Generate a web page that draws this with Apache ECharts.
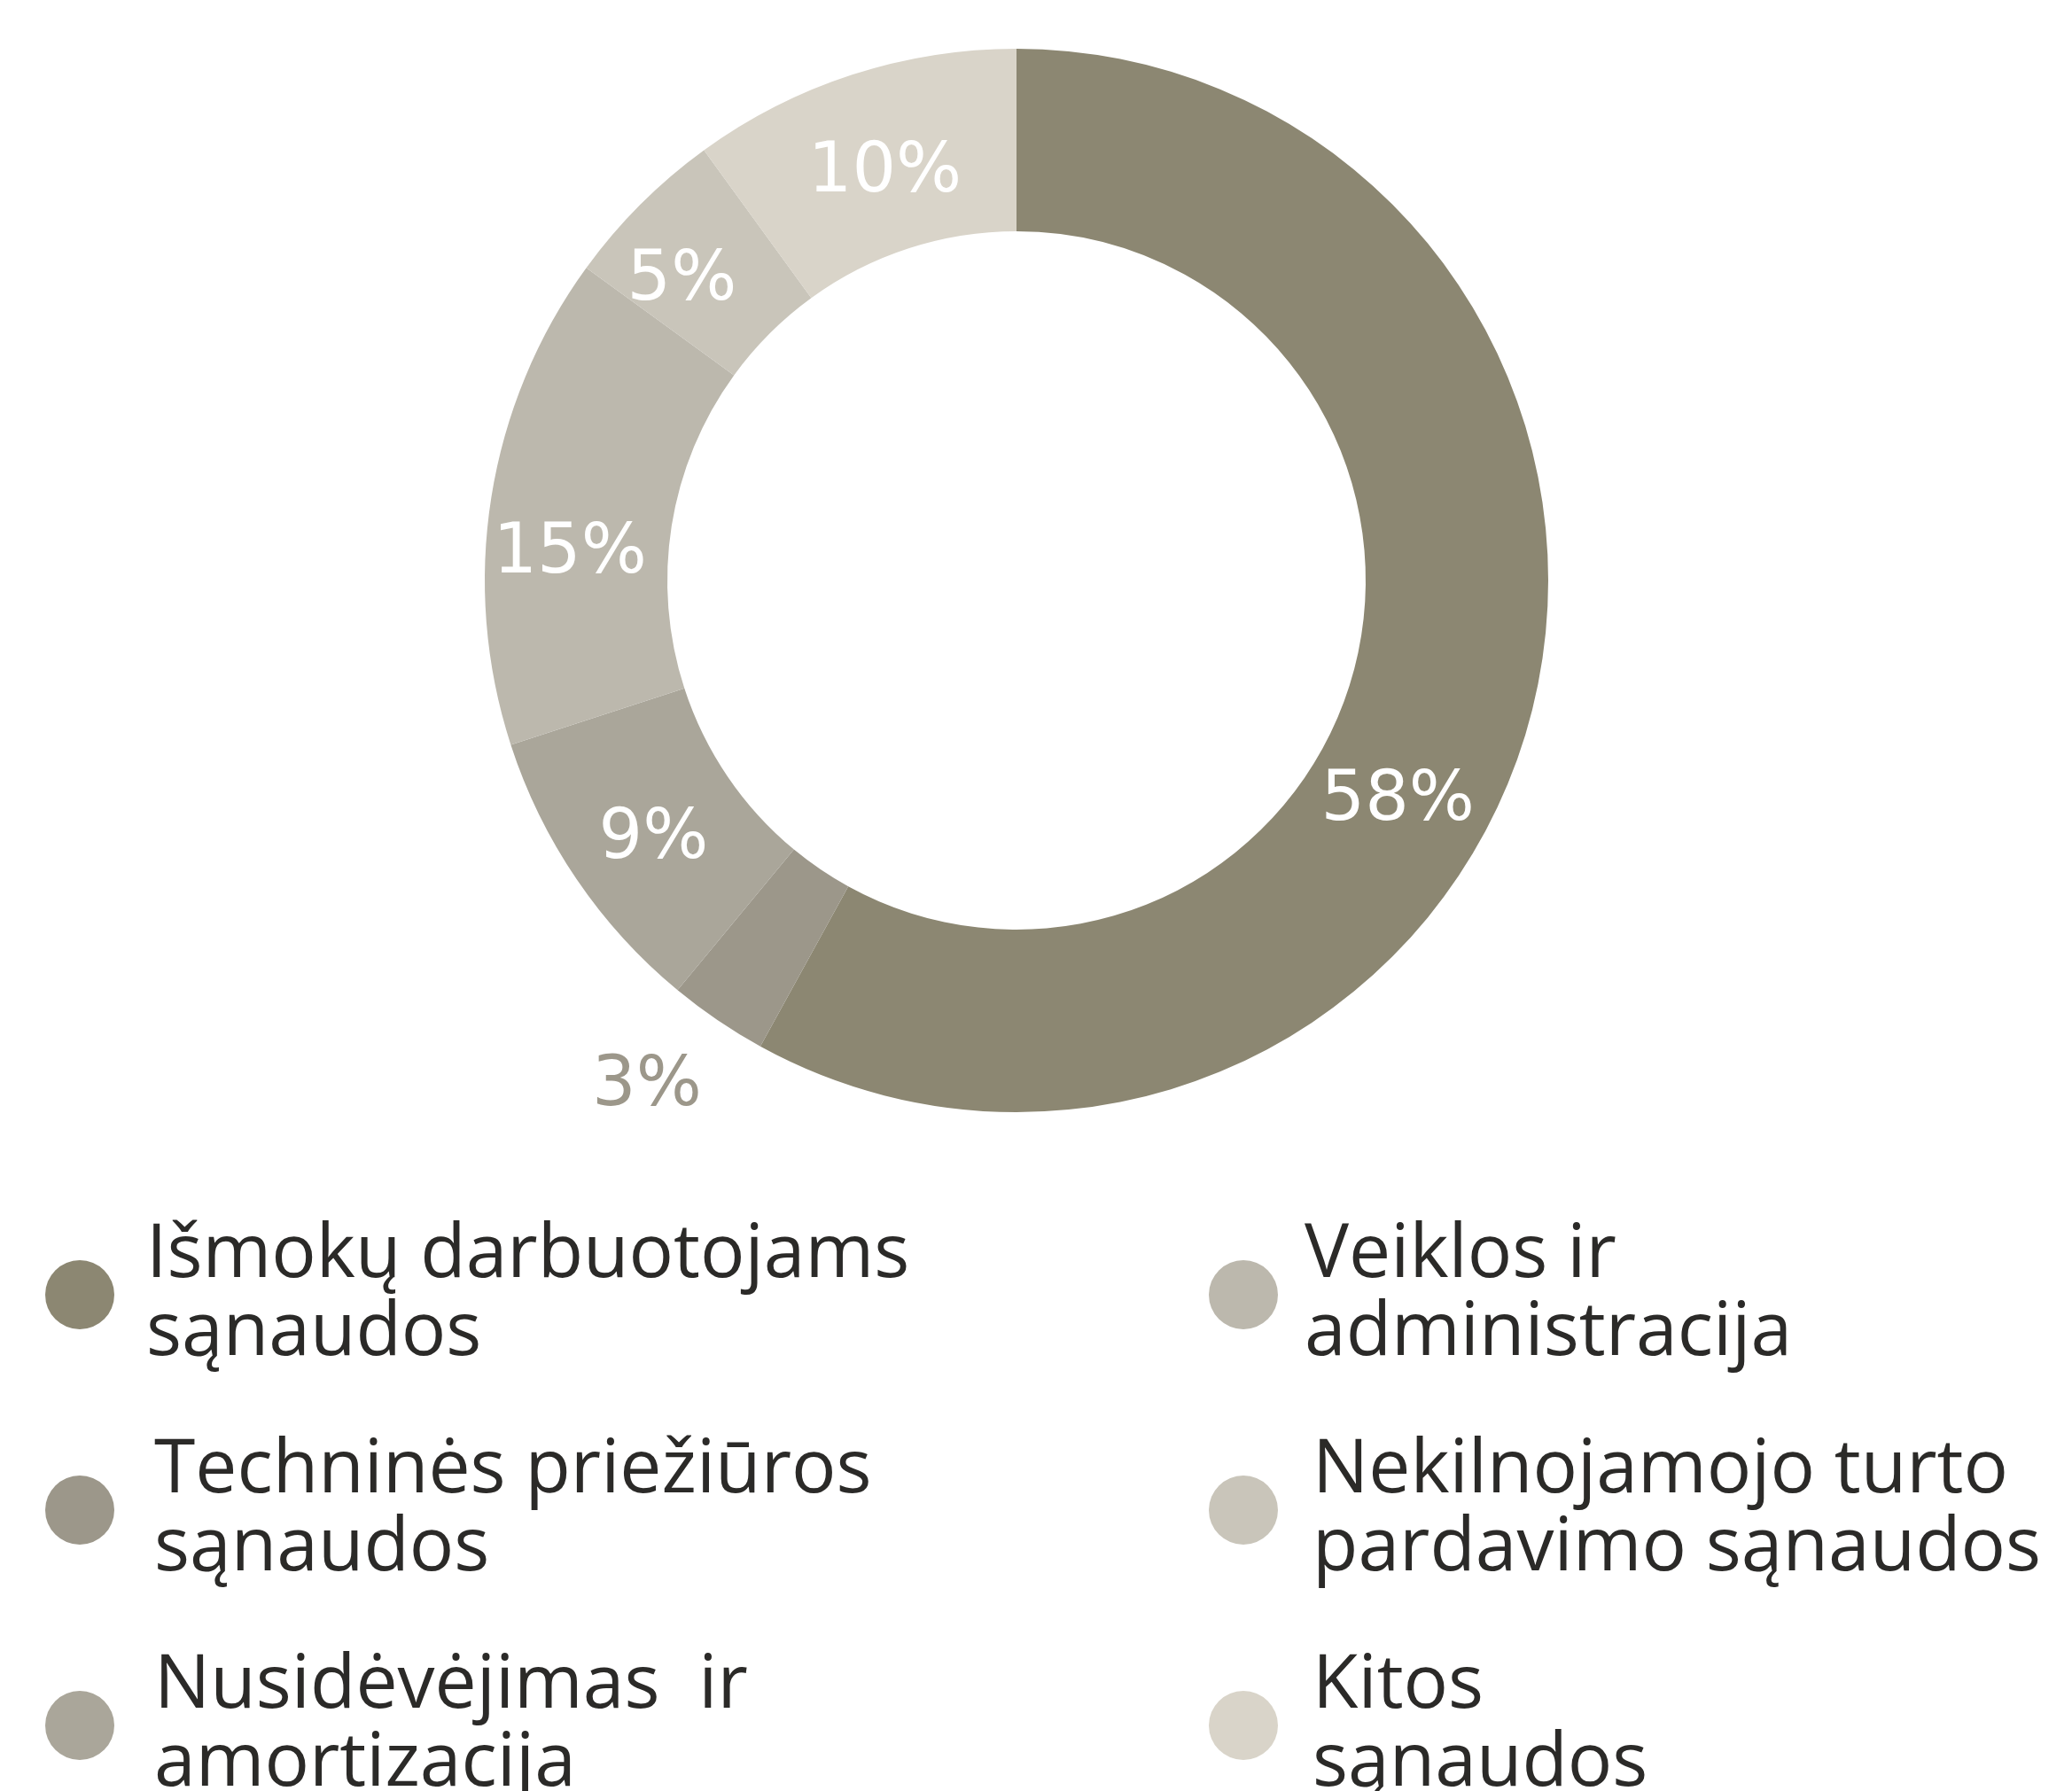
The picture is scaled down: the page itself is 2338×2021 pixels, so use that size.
<!DOCTYPE html>
<html>
<head>
<meta charset="utf-8">
<title>Sąnaudų struktūra</title>
<script src="https://cdn.jsdelivr.net/npm/echarts@6/dist/echarts.min.js"></script>
<style>
    html, body { margin: 0; padding: 0; background: #ffffff; }
    #main { width: 2338px; height: 2021px; }
</style>
</head>
<body>
<div id="main"></div>
<script>
// duomenys (procentais), tvarka – pagal laikrodžio rodyklę nuo viršaus
var categories = [
    'Išmokų darbuotojams sąnaudos',
    'Techninės priežiūros sąnaudos',
    'Nusidėvėjimas  ir amortizacija',
    'Veiklos ir administracija',
    'Nekilnojamojo turto pardavimo sąnaudos',
    'Kitos sąnaudos'
];
var shares = [58, 3, 9, 15, 5, 10];
var legendText = [
    'Išmokų darbuotojams\nsąnaudos',
    'Techninės priežiūros\nsąnaudos',
    'Nusidėvėjimas  ir\namortizacija',
    'Veiklos ir\nadministracija',
    'Nekilnojamojo turto\npardavimo sąnaudos',
    'Kitos\nsąnaudos'
];

// spalvos ir etikečių poslinkiai (išdėstymas)
var colors = ['#8c8772', '#9c978a', '#aaa69a', '#bcb8ad', '#c9c5ba', '#d9d4c9'];
var labelOffsets = [[-54, 125], [-136, 158], [4, 12], [-10, 49], [-24, 16], [6, 16]];
var legendPad = [31, 40, 40, 25, 34, 34];

var myChart = echarts.init(document.getElementById('main'), null, { renderer: 'canvas' });

function legendItems(from, to) {
    var list = [];
    for (var i = from; i < to; i++) {
        list.push({
            name: categories[i],
            textStyle: { padding: [0, 0, 0, legendPad[i]] }
        });
    }
    return list;
}

var legendBase = {
    orient: 'vertical',
    top: 1373,
    height: 1000,   // nelaužyti į antrą stulpelį
    padding: 0,
    icon: 'circle',
    itemWidth: 78,
    itemHeight: 78,
    itemGap: 67,
    selectedMode: false,
    formatter: function (name) {
        return legendText[categories.indexOf(name)];
    },
    textStyle: {
        fontFamily: 'Open Sans',
        fontSize: 84,
        lineHeight: 88,
        color: '#2b2a28'
    }
};

var option = {
    backgroundColor: '#ffffff',
    animation: false,
    color: colors,
    legend: [
        echarts.util.merge({ left: 51, data: legendItems(0, 3) }, legendBase),
        echarts.util.merge({ left: 1364, data: legendItems(3, 6) }, legendBase)
    ],
    series: [
        {
            type: 'pie',
            center: [1147, 655],
            radius: [394, 600],
            startAngle: 90,
            clockwise: true,
            silent: true,
            avoidLabelOverlap: false,
            emphasis: { disabled: true },
            labelLine: { show: false },
            label: {
                show: true,
                position: 'inside',
                formatter: '{c}%',
                fontFamily: 'DejaVu Sans',
                fontSize: 78,
                color: '#ffffff'
            },
            data: function () {
                var list = [];
                for (var i = 0; i < shares.length; i++) {
                    var item = {
                        name: categories[i],
                        value: shares[i],
                        itemStyle: { color: colors[i] },
                        label: { offset: labelOffsets[i] }
                    };
                    if (i === 1) {
                        item.label.color = colors[1];  // 3% užrašas už žiedo
                    }
                    list.push(item);
                }
                return list;
            }()
        }
    ]
};

myChart.setOption(option, true);
</script>
</body>
</html>
